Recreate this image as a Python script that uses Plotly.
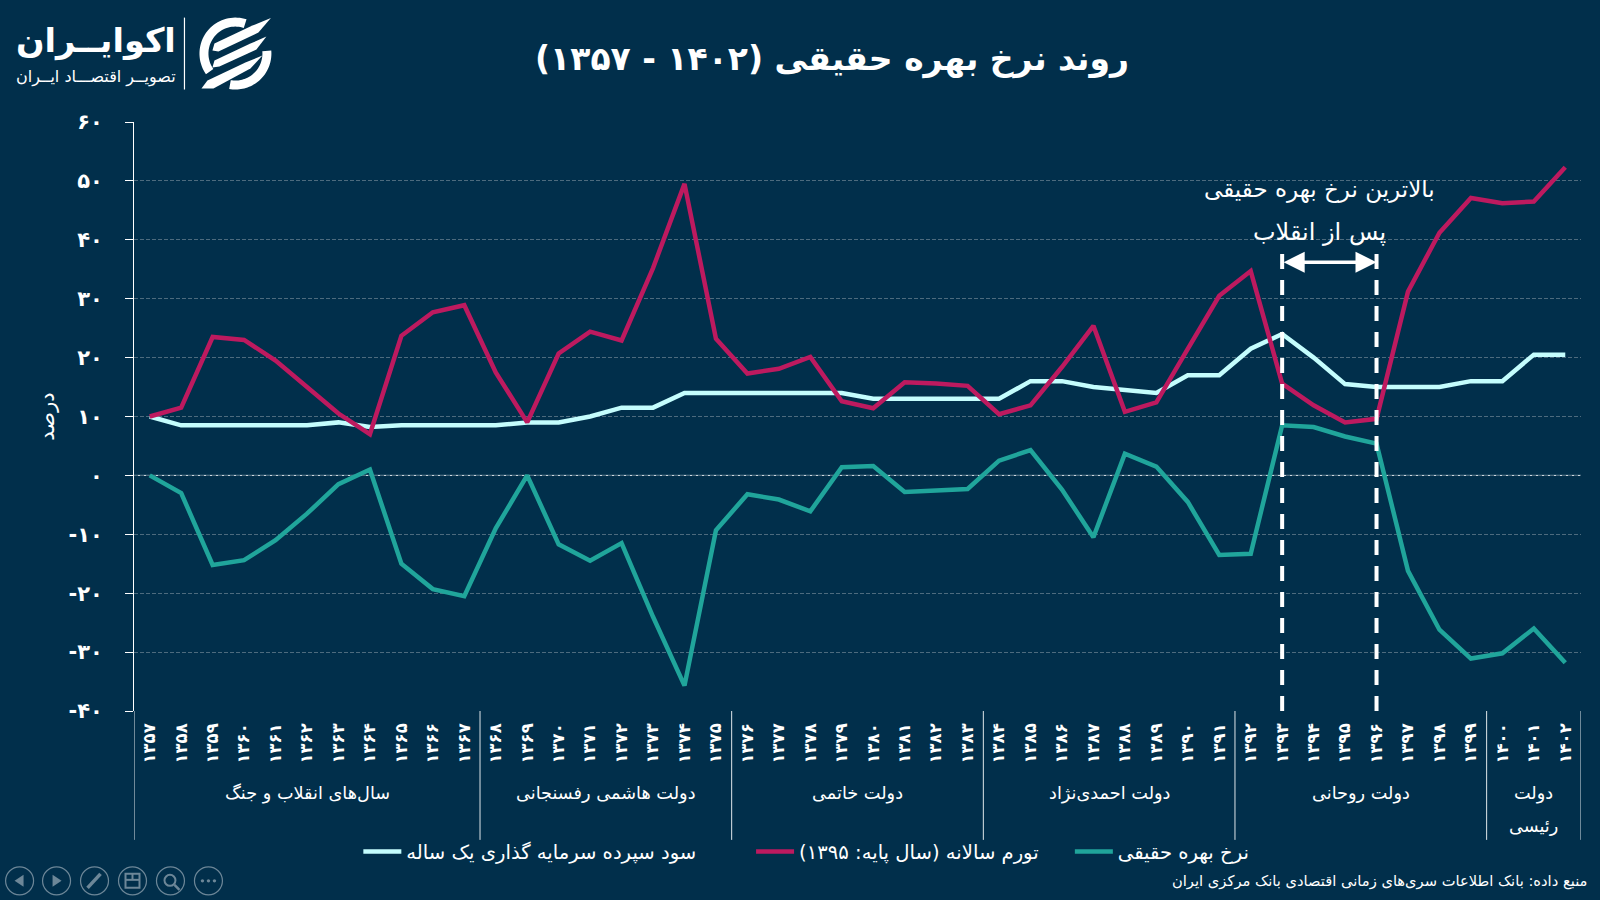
import numpy as np
import plotly.graph_objects as go

BG = "#012f4b"
CYAN = "#c4fdfd"
RED = "#bd1a5f"
TEAL = "#20a59b"
FONT = "DejaVu Sans"

FA = str.maketrans("0123456789", "۰۱۲۳۴۵۶۷۸۹")
years = [str(y).translate(FA) for y in range(1357, 1403)]

deposit = [10, 8.5, 8.5, 8.5, 8.5, 8.5, 9, 8.2, 8.5, 8.5, 8.5, 8.5, 9, 9, 10, 11.5, 11.5, 14, 14, 14, 14, 14, 14, 13,
           13, 13, 13, 13, 16, 16, 15, 14.5, 14, 17, 17, 21.5, 24, 20, 15.5, 15, 15, 15, 16, 16, 20.5, 20.5]
inflation = [10, 11.5, 23.5, 23, 19.5, 15, 10.5, 7, 23.7, 27.7, 28.9, 17.5, 9, 20.7, 24.4, 22.9, 35.2, 49.5, 23.2, 17.3,
             18.1, 20.1, 12.6, 11.4, 15.8, 15.6, 15.2, 10.4, 11.9, 18.4, 25.4, 10.8, 12.4, 21.5, 30.5, 34.7, 15.6, 11.9,
             9, 9.6, 31.2, 41.2, 47.1, 46.2, 46.5, 52.3]
real_rate = [0, -3, -15.2, -14.4, -11, -6.5, -1.5, 1, -15, -19.3, -20.5, -9, 0, -11.7, -14.5, -11.5, -24, -35.7, -9.3,
             -3.2, -4.1, -6.1, 1.4, 1.6, -2.8, -2.6, -2.3, 2.5, 4.3, -2.4, -10.5, 3.7, 1.5, -4.5, -13.5, -13.3, 8.5,
             8.2, 6.6, 5.4, -16.2, -26.2, -31.1, -30.2, -26, -31.8]

y_vals = [60, 50, 40, 30, 20, 10, 0, -10, -20, -30, -40]
y_text = [("-" if v < 0 else "") + str(abs(v)).translate(FA) for v in y_vals]

groups = ["سال‌های انقلاب و جنگ", "دولت هاشمی رفسنجانی", "دولت خاتمی", "دولت احمدی‌نژاد", "دولت روحانی", "دولت|رئیسی"]
group_edges = [-0.5, 10.5, 18.5, 26.5, 34.5, 42.5, 45.5]

series_names = ["سود سپرده سرمایه گذاری یک ساله", "تورم سالانه (سال پایه: ۱۳۹۵)\u200f", "نرخ بهره حقیقی"]
title_text = "روند نرخ بهره حقیقی (۱۴۰۲ - ۱۳۵۷)\u200f"
source_text = "منبع داده: بانک اطلاعات سری‌های زمانی اقتصادی بانک مرکزی ایران"

# plot frame in page pixels
L, R, T, B = 133.5, 1581.5, 121.5, 711.0
W, H = 1600, 900
px = lambda x: (x - L) / (R - L)
py = lambda y: (B - y) / (B - T)


def path(points, close=True):
    s = "M" + " L".join(f"{px(x):.5f},{py(y):.5f}" for x, y in points)
    return s + (" Z" if close else "")


def ring(cx, cy, r0, r1, a0, a1, n=40):
    a = np.radians(np.linspace(a0, a1, n))
    outer = [(cx + r1 * np.cos(t), cy - r1 * np.sin(t)) for t in a]
    inner = [(cx + r0 * np.cos(t), cy - r0 * np.sin(t)) for t in a[::-1]]
    return outer + inner


def deco(points, fill="white", line="rgba(0,0,0,0)", width=0, close=True):
    return dict(type="path", xref="paper", yref="paper", path=path(points, close), fillcolor=fill if close else None,
                line=dict(color=line, width=width), layer="above")


fig = go.Figure()
fig.add_trace(go.Scatter(x=years, y=real_rate, name=series_names[2], mode="lines", legend="legend3",
                         line=dict(color=TEAL, width=4.5, shape="linear")))
fig.add_trace(go.Scatter(x=years, y=deposit, name=series_names[0], mode="lines", legend="legend",
                         line=dict(color=CYAN, width=4.5)))
fig.add_trace(go.Scatter(x=years, y=inflation, name=series_names[1], mode="lines", legend="legend2",
                         line=dict(color=RED, width=4.5)))

shapes = []
# zero line
shapes.append(dict(type="line", xref="paper", yref="y", x0=0, x1=1, y0=0, y1=0,
                   line=dict(color="#e8eef2", width=1), layer="below"))
# government separators
for e in group_edges:
    shapes.append(dict(type="line", xref="x", yref="paper", x0=e, x1=e, y0=0, y1=py(840),
                       line=dict(color="#dfe6ea", width=1)))
# highlighted period
for e in (36, 39):
    shapes.append(dict(type="line", xref="x", yref="paper", x0=e, x1=e, y0=0, y1=py(248),
                       line=dict(color="white", width=4, dash="15px,11px"), layer="above"))

# logo
shapes.append(dict(type="line", xref="paper", yref="paper", x0=px(184), x1=px(184), y0=py(17), y1=py(89),
                   line=dict(color="white", width=1.2)))
cx, cy = 235, 53
shapes.append(deco(ring(cx, cy, 27, 36, 72, 215)))
shapes.append(deco(ring(cx, cy, 27, 36, -100, 5)))
shapes.append(deco([(270.5, 17.5), (258, 32), (218, 51), (212, 50), (214, 43), (252, 25)]))
shapes.append(deco([(266, 36), (256, 49), (219, 66), (212, 67), (214, 60), (250, 43)]))
shapes.append(deco([(262, 55), (250, 68), (213, 88), (201, 88), (207, 80), (245, 62)]))

# bottom-left viewer controls
ICON = "#6d8798"
for cxi in (19, 56, 94, 132, 170, 208):
    shapes.append(dict(type="circle", xref="paper", yref="paper", x0=px(cxi - 14), x1=px(cxi + 14),
                       y0=py(881 - 14), y1=py(881 + 14), line=dict(color=ICON, width=1.2)))
shapes.append(deco([(14, 881), (23, 875), (23, 887)], fill=ICON))
shapes.append(deco([(61, 881), (52, 875), (52, 887)], fill=ICON))
shapes.append(deco([(87, 888), (100, 874)], line=ICON, width=3.5, close=False))
shapes.append(deco([(125, 874), (139, 874), (139, 888), (125, 888)], fill="rgba(0,0,0,0)", line=ICON, width=2))
shapes.append(deco([(125, 880), (139, 880)], line=ICON, width=2, close=False))
shapes.append(deco([(132, 874), (132, 880)], line=ICON, width=2, close=False))
shapes.append(dict(type="circle", xref="paper", yref="paper", x0=px(164), x1=px(175), y0=py(875), y1=py(886),
                   line=dict(color=ICON, width=2)))
shapes.append(deco([(174, 885), (179, 890)], line=ICON, width=2.5, close=False))
for dx in (-6, 0, 6):
    shapes.append(dict(type="circle", xref="paper", yref="paper", x0=px(208 + dx - 1.7), x1=px(208 + dx + 1.7),
                       y0=py(879.3), y1=py(882.7), fillcolor=ICON, line=dict(color=ICON, width=0)))

ann = []
mid = dict(showarrow=False, yanchor="middle")
# title
ann.append(dict(text="<b>" + title_text + "</b>", xref="paper", yref="paper", x=px(832), y=py(58), xanchor="center",
                font=dict(size=33, color="white", family=FONT), **mid))
# logo text
ann.append(dict(text="<b>اکوایــران</b>", xref="paper", yref="paper", x=px(178), y=py(40), xanchor="right",
                font=dict(size=33.5, color="white", family=FONT), **mid))
ann.append(dict(text="تصویــر اقتصـــاد ایــران", xref="paper", yref="paper", x=px(178), y=py(76), xanchor="right",
                font=dict(size=16, color="white", family=FONT), **mid))
# government labels
for i, g in enumerate(groups):
    parts = g.split("|")
    for j, part in enumerate(parts):
        ann.append(dict(text=part, xref="x", yref="paper", x=(group_edges[i] + group_edges[i + 1]) / 2,
                        y=py(794 + 32 * j), xanchor="center",
                        font=dict(size=17.7, color="white", family=FONT), **mid))
# callout
ann.append(dict(text="بالاترین نرخ بهره حقیقی", xref="x", yref="paper", x=37.2, y=py(189), xanchor="center",
                font=dict(size=23, color="white", family=FONT), **mid))
ann.append(dict(text="پس از انقلاب", xref="x", yref="paper", x=37.2, y=py(232), xanchor="center",
                font=dict(size=24, color="white", family=FONT), **mid))
ann.append(dict(text="", x=39, y=36.2, ax=36, ay=36.2, xref="x", yref="y", axref="x", ayref="y", showarrow=True,
                arrowhead=2, arrowside="end+start", arrowsize=1.2, arrowwidth=3.5, arrowcolor="white"))
# source
ann.append(dict(text=source_text, xref="paper", yref="paper", x=px(1590), y=py(881), xanchor="right",
                font=dict(size=14.7, color="white", family=FONT), **mid))

leg_font = dict(size=19.6, color="white", family=FONT)
leg = lambda x: dict(x=px(x), y=py(852), xanchor="left", yanchor="middle", orientation="h", font=leg_font,
                     bgcolor="rgba(0,0,0,0)", itemwidth=38, itemclick=False, itemdoubleclick=False)

fig.update_layout(
    width=W, height=H, autosize=False,
    margin=dict(l=L, r=W - R, t=T, b=H - B, pad=0),
    paper_bgcolor=BG, plot_bgcolor=BG,
    font=dict(family=FONT, color="white"),
    showlegend=True,
    legend=leg(358), legend2=leg(751), legend3=leg(1070),
    shapes=shapes, annotations=ann,
    xaxis=dict(type="category", categoryorder="array", categoryarray=years, range=[-0.5, 45.5],
               tickmode="array", tickvals=years, ticktext=["<b>" + t + "</b>" for t in years], tickangle=-90,
               tickfont=dict(size=16.5, color="white", family=FONT), ticks="", showgrid=False, zeroline=False,
               showline=False, ticklabelstandoff=8),
    yaxis=dict(range=[-40, 60], tickmode="array", tickvals=y_vals, ticktext=["<b>" + t + "</b>" for t in y_text],
               tickfont=dict(size=21, color="white", family=FONT), ticks="outside", ticklen=8, tickwidth=1,
               tickcolor="white", showline=True, linecolor="white", linewidth=1, zeroline=False,
               showgrid=True, gridcolor="#4d6b7e", griddash="4px,2px", gridwidth=1, ticklabelstandoff=18,
               title=dict(text="درصد", font=dict(size=21, color="white", family=FONT), standoff=8)),
)

fig.write_html("out.html", post_script="document.body.style.margin='0';document.body.style.overflow='hidden';",
               config=dict(displayModeBar=False))
